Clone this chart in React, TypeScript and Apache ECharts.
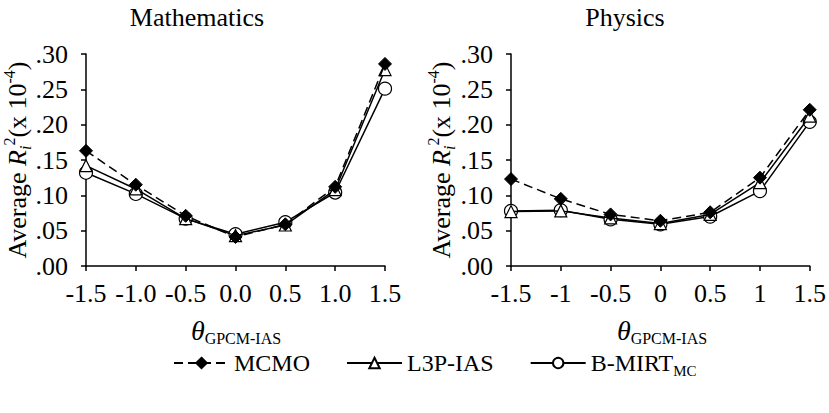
import React, { useEffect, useRef } from "react";
import * as echarts from "echarts";

const mathCategories = ["-1.5", "-1.0", "-0.5", "0.0", "0.5", "1.0", "1.5"];
const physCategories = ["-1.5", "-1", "-0.5", "0", "0.5", "1", "1.5"];

const mathMCMO = [0.163, 0.115, 0.071, 0.041, 0.059, 0.112, 0.286];
const mathL3P = [0.142, 0.109, 0.067, 0.043, 0.058, 0.108, 0.278];
const mathBMIRT = [0.132, 0.102, 0.067, 0.045, 0.062, 0.104, 0.251];

const physMCMO = [0.123, 0.095, 0.073, 0.064, 0.076, 0.125, 0.221];
const physL3P = [0.077, 0.078, 0.068, 0.06, 0.073, 0.118, 0.212];
const physBMIRT = [0.078, 0.079, 0.066, 0.059, 0.07, 0.106, 0.204];

const panelTitles = ["Mathematics", "Physics"];
const seriesNames = ["MCMO", "L3P-IAS", "B-MIRT_MC"];

const FONT = "Liberation Serif";

const grids = [
  { left: 86, right: 829 - 385, top: 54, bottom: 413 - 266, containLabel: false },
  { left: 511, right: 829 - 813, top: 54, bottom: 413 - 266, containLabel: false },
];

export default function App() {
  const refA = useRef<HTMLDivElement>(null);
  const refB = useRef<HTMLDivElement>(null);

  useEffect(() => {
    if (!refA.current || !refB.current) return;
    const chartA = echarts.init(refA.current, null, { renderer: "svg" });
    const chartB = echarts.init(refB.current, null, { renderer: "svg" });

    const axisLine = { show: true, lineStyle: { color: "#000", width: 1.5 } };
    const axisTick = { show: true, length: 5, inside: false, lineStyle: { color: "#000", width: 1.5 } };

    // ---------- chart A: axes, ticks, labels, series, legend, titles ----------
    const makeX = (gridIndex: number, cats: string[]) => ({
      type: "category",
      gridIndex,
      data: cats,
      boundaryGap: false,
      axisLine,
      axisTick: { ...axisTick, alignWithLabel: true, interval: 0 },
      axisLabel: { color: "#000", fontFamily: FONT, fontSize: 26, margin: 14, interval: 0 },
      splitLine: { show: false },
    });

    const makeY = (gridIndex: number) => ({
      type: "value",
      gridIndex,
      min: 0,
      max: 0.3,
      interval: 0.05,
      axisLine,
      axisTick,
      splitLine: { show: false },
      axisLabel: {
        color: "#000",
        fontFamily: FONT,
        fontSize: 26,
        margin: 18,
        formatter: (v: number) => v.toFixed(2).replace(/^0/, ""),
      },
    });

    const mk = (name: string, data: number[], idx: number) => {
      const base: any = {
        type: "line",
        name,
        data,
        xAxisIndex: idx,
        yAxisIndex: idx,
        lineStyle: { color: "#000", width: 1.5 },
      };
      if (name === "MCMO") {
        base.symbol = "diamond";
        base.symbolSize = 13;
        base.itemStyle = { color: "#000", borderColor: "#000", borderWidth: 1 };
        base.lineStyle = { color: "#000", width: 1.5, type: [9, 5] };
        base.z = 4;
      } else if (name === "L3P-IAS") {
        base.symbol = "triangle";
        base.symbolSize = 12;
        base.itemStyle = { color: "#fff", borderColor: "#000", borderWidth: 1.2 };
        base.z = 3;
      } else {
        base.symbol = "circle";
        base.symbolSize = 13;
        base.itemStyle = { color: "#fff", borderColor: "#000", borderWidth: 1.2 };
        base.z = 2;
      }
      return base;
    };

    const optionA: any = {
      animation: false,
      backgroundColor: "#fff",
      grid: grids,
      xAxis: [makeX(0, mathCategories), makeX(1, physCategories)],
      yAxis: [makeY(0), makeY(1)],
      legend: {
        data: seriesNames,
        top: 346,
        left: 168,
        itemWidth: 55,
        itemHeight: 13,
        itemGap: 36,
        textStyle: {
          color: "#000",
          fontFamily: FONT,
          fontSize: 24,
          rich: {
            b: { fontFamily: FONT, fontSize: 24, color: "#000", lineHeight: 30, verticalAlign: "middle" },
            s: { fontFamily: FONT, fontSize: 15, color: "#000", lineHeight: 30, verticalAlign: "bottom" },
          },
        },
        formatter: (name: string) => (name === "B-MIRT_MC" ? "{b|B-MIRT}{s|MC}" : name),
      },
      graphic: [
        {
          type: "text",
          x: 197,
          y: 17,
          style: { text: panelTitles[0], fontFamily: FONT, fontSize: 26, fill: "#000", align: "center", verticalAlign: "middle" },
        },
        {
          type: "text",
          x: 625,
          y: 17,
          style: { text: panelTitles[1], fontFamily: FONT, fontSize: 26, fill: "#000", align: "center", verticalAlign: "middle" },
        },
      ],
      series: [
        mk("L3P-IAS", mathL3P, 0),
        mk("B-MIRT_MC", mathBMIRT, 0),
        mk("MCMO", mathMCMO, 0),
        mk("L3P-IAS", physL3P, 1),
        mk("B-MIRT_MC", physBMIRT, 1),
        mk("MCMO", physMCMO, 1),
      ],
    };

    // ---------- chart B: overlay with the axis names only ----------
    const yName = "{n|Average }{i|R}{sub|i}{sup|2}{n|(x 10}{sup|-4}{n|)}";
    const yRich = {
      n: { fontFamily: FONT, fontSize: 26, color: "#000", lineHeight: 32, verticalAlign: "middle" },
      i: { fontFamily: FONT, fontSize: 26, fontStyle: "italic", color: "#000", lineHeight: 32, verticalAlign: "middle" },
      sub: { fontFamily: FONT, fontSize: 16, fontStyle: "italic", color: "#000", lineHeight: 32, verticalAlign: "bottom" },
      sup: { fontFamily: FONT, fontSize: 16, color: "#000", lineHeight: 32, verticalAlign: "top" },
    };
    const xName = "{t|θ}{s|GPCM-IAS}";
    const xRich = {
      t: { fontFamily: FONT, fontSize: 28, fontStyle: "italic", color: "#000", lineHeight: 32, verticalAlign: "middle" },
      s: { fontFamily: FONT, fontSize: 16, color: "#000", lineHeight: 32, verticalAlign: "bottom" },
    };
    const hidden = { axisLine: { show: false }, axisTick: { show: false }, axisLabel: { show: false }, splitLine: { show: false } };
    const nameX = (gridIndex: number, cats: string[]) => ({
      type: "category",
      gridIndex,
      data: cats,
      boundaryGap: false,
      ...hidden,
      name: xName,
      nameLocation: "middle",
      nameGap: 48,
      nameTextStyle: { fontFamily: FONT, color: "#000", rich: xRich },
    });
    const nameY = (gridIndex: number) => ({
      type: "value",
      gridIndex,
      min: 0,
      max: 0.3,
      interval: 0.05,
      ...hidden,
      name: yName,
      nameLocation: "middle",
      nameRotate: 90,
      nameGap: 54,
      nameTextStyle: { fontFamily: FONT, color: "#000", rich: yRich },
    });
    const optionB: any = {
      animation: false,
      backgroundColor: "transparent",
      grid: grids,
      xAxis: [nameX(0, mathCategories), nameX(1, physCategories)],
      yAxis: [nameY(0), nameY(1)],
      series: [],
    };

    chartA.setOption(optionA);
    chartB.setOption(optionB);
    return () => {
      chartA.dispose();
      chartB.dispose();
    };
  }, []);

  return (
    <div style={{ position: "fixed", left: 0, top: 0, width: 829, height: 413, background: "#fff" }}>
      <div ref={refA} style={{ position: "absolute", left: 0, top: 0, width: 829, height: 413 }} />
      <div
        ref={refB}
        style={{ position: "absolute", left: 0, top: 0, width: 829, height: 413, pointerEvents: "none" }}
      />
    </div>
  );
}
